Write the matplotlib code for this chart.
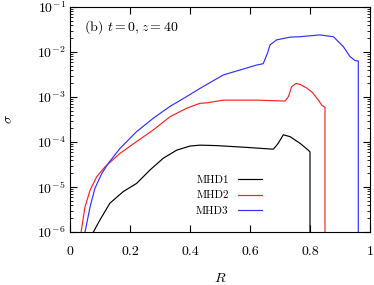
import numpy as np
import matplotlib
matplotlib.use("Agg")
import matplotlib.pyplot as plt

plt.rcParams['font.family'] = 'cmr10'
plt.rcParams['mathtext.fontset'] = 'cm'
plt.rcParams['axes.formatter.use_mathtext'] = True
plt.rcParams['axes.unicode_minus'] = False

# log10(sigma)
r1 = [0.078, 0.10, 0.133, 0.178, 0.222, 0.267, 0.311, 0.356, 0.40, 0.433, 0.489, 0.589,
      0.678, 0.694, 0.711, 0.733, 0.767, 0.794, 0.80, 0.80]
s1 = [-6.0, -5.73, -5.36, -5.10, -4.92, -4.62, -4.36, -4.18, -4.09, -4.07, -4.08, -4.12,
      -4.16, -4.03, -3.84, -3.88, -4.03, -4.18, -4.22, -8]

r2 = [0.037, 0.05, 0.067, 0.089, 0.117, 0.167, 0.222, 0.278, 0.333, 0.389, 0.433, 0.456,
      0.511, 0.622, 0.717, 0.728, 0.739, 0.753, 0.767, 0.789, 0.808, 0.828, 0.839, 0.85, 0.85]
s2 = [-6.0, -5.44, -5.07, -4.77, -4.55, -4.25, -3.99, -3.73, -3.44, -3.25, -3.14, -3.13,
      -3.07, -3.07, -3.09, -2.99, -2.77, -2.70, -2.72, -2.80, -2.90, -3.07, -3.18, -3.23, -8]

r3 = [0.05, 0.067, 0.083, 0.106, 0.128, 0.167, 0.222, 0.278, 0.333, 0.389, 0.433, 0.511,
      0.622, 0.644, 0.658, 0.667, 0.689, 0.733, 0.767, 0.833, 0.878, 0.911, 0.933, 0.95,
      0.961, 0.961]
s3 = [-6.0, -5.44, -5.03, -4.70, -4.47, -4.14, -3.77, -3.47, -3.21, -2.99, -2.81, -2.51,
      -2.29, -2.26, -2.03, -1.84, -1.73, -1.67, -1.66, -1.62, -1.66, -1.88, -2.10, -2.19,
      -2.2, -8]

labels = ['MHD1', 'MHD2', 'MHD3']
colors = ['black', '#ff2020', '#3030ff']

fig = plt.figure(figsize=(3.74, 2.85), dpi=100)
ax = fig.add_axes([70/374, 1-232/285, 300/374, 225/285])

for r, s, lab, c in zip([r1, r2, r3], [s1, s2, s3], labels, colors):
    ax.plot(r, 10**np.array(s), color=c, lw=0.85, label=lab)

ax.set_yscale('log')
ax.set_xlim(0, 1)
ax.set_ylim(1e-6, 1e-1)
ax.set_xticks([0, 0.2, 0.4, 0.6, 0.8, 1])
ax.set_xticklabels(['0', '0.2', '0.4', '0.6', '0.8', '1'])
ax.tick_params(which='both', direction='in', top=True, right=True, labelsize=10)
ax.tick_params(axis='x', pad=10)
ax.tick_params(axis='y', pad=3)
ax.tick_params(which='major', length=5)
ax.tick_params(which='minor', length=2.5)
ax.set_xlabel('$R$', fontsize=10, labelpad=10)
ax.set_ylabel(r'$\sigma$', fontsize=10, labelpad=16)
ax.text(0.045, 0.895, r'(b) $t=0, z=40$', transform=ax.transAxes, fontsize=10)
ax.legend(loc='lower center', bbox_to_anchor=(0.53, 0.025), frameon=False, markerfirst=False,
          fontsize=8, handlelength=2.2, labelspacing=0.55)

fig.savefig('out.png', dpi=100)
